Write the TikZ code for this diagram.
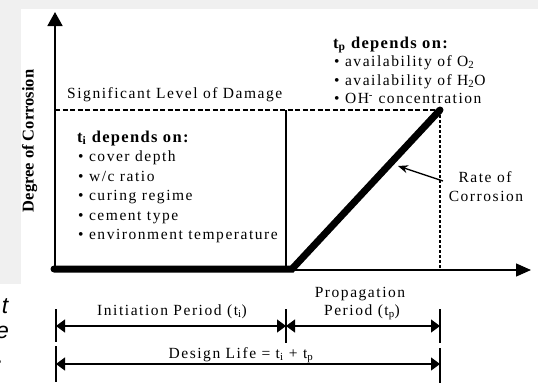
\documentclass[tikz,border=0pt]{standalone}
\usepackage{fontspec}
\setmainfont{Liberation Serif}
\newfontfamily\spaced[LetterSpace=10]{Liberation Serif}
\newfontfamily\spacedbold[LetterSpace=8]{Liberation Serif}
\newfontfamily\capsans{Liberation Sans}
\usetikzlibrary{arrows.meta}
\definecolor{pagegray}{HTML}{F0F0F0}

\begin{document}
\begin{tikzpicture}[x=1pt,y=-1pt,
  lbl/.style={inner sep=0pt, font=\spaced\fontsize{15.5}{15.5}\selectfont},
  bold lbl/.style={inner sep=0pt, font=\spacedbold\bfseries\fontsize{16.5}{16.5}\selectfont},
  axis/.style={line width=1.8pt, -{Triangle[length=14pt,width=15pt]}},
  thin axis/.style={line width=1.4pt, -{Triangle[length=15pt,width=13pt]}},
  curve/.style={line width=7pt, line cap=round},
  guide/.style={line width=1.3pt},
  dashline/.style={line width=1.8pt, dash pattern=on 5pt off 2.5pt},
  dotline/.style={line width=1.8pt, dash pattern=on 3pt off 2pt},
  bar/.style={line width=2pt},
  dim/.style={line width=1.3pt, {Triangle[length=9pt,width=13pt]}-{Triangle[length=9pt,width=13pt]}},
  pointer/.style={line width=1.4pt, -{Stealth[length=10pt,width=8pt]}},
  frag/.style={inner sep=0pt, font=\capsans\itshape\fontsize{23}{23}\selectfont}
]
\useasboundingbox (0,0) rectangle (538,386);

% page background strips
\fill[pagegray] (0,0) rectangle (538,9);
\fill[pagegray] (0,0) rectangle (21,284);

% italic text running in from the left margin
\begin{scope}
  \clip (0,0) rectangle (538,386);
  \node[frag, anchor=base east] (fragt) at (8.5,313) {t};
  \node[frag, anchor=base east] (frage) at (9,338) {e};
  \node[frag, anchor=base east] (fragd) at (4,363) {.};
\end{scope}

% key points
\coordinate (O) at (55,270);
\coordinate (Ytop) at (55,12);
\coordinate (Xend) at (531,270);
\coordinate (S) at (54,269);
\coordinate (K) at (292,269);
\coordinate (P) at (440,110);
\coordinate (D0) at (55,110);
\coordinate (V) at (286,110);
\coordinate (Vb) at (286,270);
\coordinate (Pb) at (440,270);

% damage level and period boundaries
\draw[dashline] (D0) -- (P);
\draw[dotline] (P) -- (Pb);
\draw[guide] (V) -- (Vb);

% axes
\draw[thin axis] (O) -- (Xend);
\draw[axis] (O) -- (Ytop);

% corrosion curve
\draw[curve] (S) -- (K) -- (P);

% axis label
\node[inner sep=0pt, rotate=90, anchor=base, font=\bfseries\fontsize{16.5}{16.5}\selectfont] (ylab) at (33.5,141) {Degree of Corrosion};

% labels
\node[lbl, anchor=base west] (sld) at (67,98) {Significant Level of Damage};

\node[bold lbl, anchor=base west] (ti0) at (77,142) {t\textsubscript{i} depends on:};
\node[lbl, anchor=base west] (ti1) at (78,161.5) {• cover depth};
\node[lbl, anchor=base west] (ti2) at (78,181) {• w/c ratio};
\node[lbl, anchor=base west] (ti3) at (78,200.5) {• curing regime};
\node[lbl, anchor=base west] (ti4) at (78,220) {• cement type};
\node[lbl, anchor=base west] (ti5) at (78,239.5) {• environment temperature};

\node[bold lbl, anchor=base west] (tp0) at (333,48) {t\textsubscript{p} depends on:};
\node[lbl, anchor=base west] (tp1) at (334,66.5) {• availability of O\textsubscript{2}};
\node[lbl, anchor=base west] (tp2) at (334,85) {• availability of H\textsubscript{2}O};
\node[lbl, anchor=base west] (tp3) at (334,103.5) {• OH\textsuperscript{-} concentration};

\node[lbl, anchor=base] (rate1) at (485,182) {Rate of};
\node[lbl, anchor=base] (rate2) at (486,201) {Corrosion};
\coordinate (rtail) at (443,181);
\coordinate (rtip) at (398,166);
\draw[pointer] (rtail) -- (rtip);

% time periods
\coordinate (L1a) at (56,309);
\coordinate (L1b) at (56,342);
\coordinate (L2a) at (56,346);
\coordinate (L2b) at (56,382);
\coordinate (M1a) at (286,309);
\coordinate (M1b) at (286,343);
\coordinate (R1a) at (440,309);
\coordinate (R1b) at (440,343);
\coordinate (R2a) at (440,348);
\coordinate (R2b) at (440,383);
\draw[bar] (L1a) -- (L1b);
\draw[bar] (L2a) -- (L2b);
\draw[bar] (M1a) -- (M1b);
\draw[bar] (R1a) -- (R1b);
\draw[bar] (R2a) -- (R2b);

\coordinate (dl1) at (56,326);
\coordinate (dm1) at (286,326);
\coordinate (dr1) at (440,326);
\coordinate (dl2) at (56,364);
\coordinate (dr2) at (440,364);
\draw[dim] (dl1) -- (dm1);
\draw[dim] (dm1) -- (dr1);
\draw[dim] (dl2) -- (dr2);

\node[lbl, anchor=base] (init) at (172,315) {Initiation Period (t\textsubscript{i})};
\node[lbl, anchor=base] (prop1) at (360,297) {Propagation};
\node[lbl, anchor=base] (prop2) at (362,315) {Period (t\textsubscript{p})};
\node[lbl, anchor=base] (life) at (241,358) {Design Life = t\textsubscript{i} + t\textsubscript{p}};
\end{tikzpicture}
\end{document}
